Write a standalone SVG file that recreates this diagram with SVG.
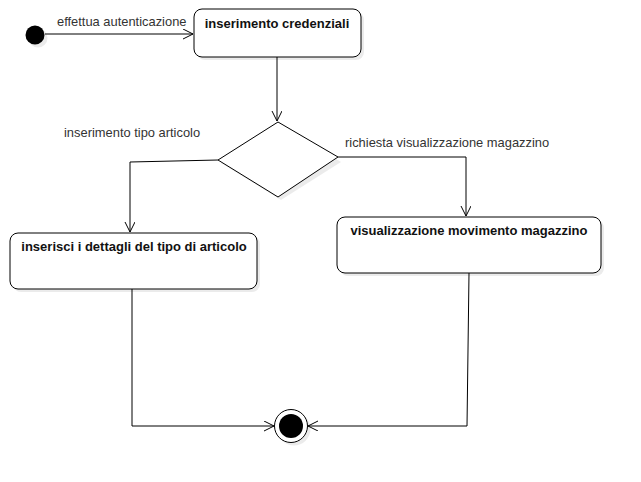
<svg xmlns="http://www.w3.org/2000/svg" width="641" height="482" viewBox="0 0 641 482">
<style>
.box{fill:#fff;stroke:#000;stroke-width:1}
.sh{fill:#000;opacity:0.08}
.t{font-family:"Liberation Sans",Arial,sans-serif;font-size:13px;font-weight:bold;fill:#111;text-anchor:middle}
.l{font-family:"Liberation Sans",Arial,sans-serif;font-size:12.9px;fill:#333}
.c{fill:none;stroke:#000;stroke-width:1}
</style>
<defs>
<marker id="a" markerWidth="12" markerHeight="12" refX="10" refY="5" orient="auto" markerUnits="userSpaceOnUse">
<path d="M0,0 L10,5 L0,10" fill="none" stroke="#000" stroke-width="1"/>
</marker>
</defs>
<rect width="641" height="482" fill="#fff"/>
<g id="start">
<circle cx="38" cy="38" r="9.5" class="sh"/>
<circle cx="35" cy="35" r="9.5" fill="#000"/>
</g>
<g id="n1">
<rect x="197" y="12" width="167" height="48" rx="8" class="sh"/>
<rect x="194" y="9" width="167" height="48" rx="8" class="box"/>
<text x="277" y="28" class="t">inserimento credenziali</text>
</g>
<g id="decision">
<polygon points="281,125 341,162 281,200 221,163" class="sh"/>
<polygon points="278,122 338,157 278,197 218,160" class="box"/>
</g>
<g id="n2">
<rect x="13" y="236" width="247" height="56" rx="8" class="sh"/>
<rect x="10" y="233" width="247" height="56" rx="8" class="box"/>
<text x="134" y="251" class="t">inserisci i dettagli del tipo di articolo</text>
</g>
<g id="n3">
<rect x="340" y="220" width="264" height="56" rx="8" class="sh"/>
<rect x="337" y="217" width="264" height="56" rx="8" class="box"/>
<text x="469" y="235" class="t">visualizzazione movimento magazzino</text>
</g>
<g id="end">
<circle cx="294" cy="429" r="16.5" class="sh"/>
<circle cx="291" cy="426" r="16.5" fill="#fff" stroke="#000" stroke-width="1"/>
<circle cx="291" cy="426" r="12" fill="#000"/>
</g>
<g id="connectors">
<path d="M45,34 L193,34" class="c" marker-end="url(#a)"/>
<path d="M277,57 L277,121" class="c" marker-end="url(#a)"/>
<path d="M218,160 L130,162 L130,232" class="c" marker-end="url(#a)"/>
<path d="M338,157 L466,157 L466,216" class="c" marker-end="url(#a)"/>
<path d="M132,289 L132,426 L274,426" class="c" marker-end="url(#a)"/>
<path d="M469,273 L467,426 L308,426" class="c" marker-end="url(#a)"/>
<text x="57" y="26" class="l">effettua autenticazione</text>
<text x="64" y="137" class="l">inserimento tipo articolo</text>
<text x="345" y="147" class="l">richiesta visualizzazione magazzino</text>
</g>
</svg>
